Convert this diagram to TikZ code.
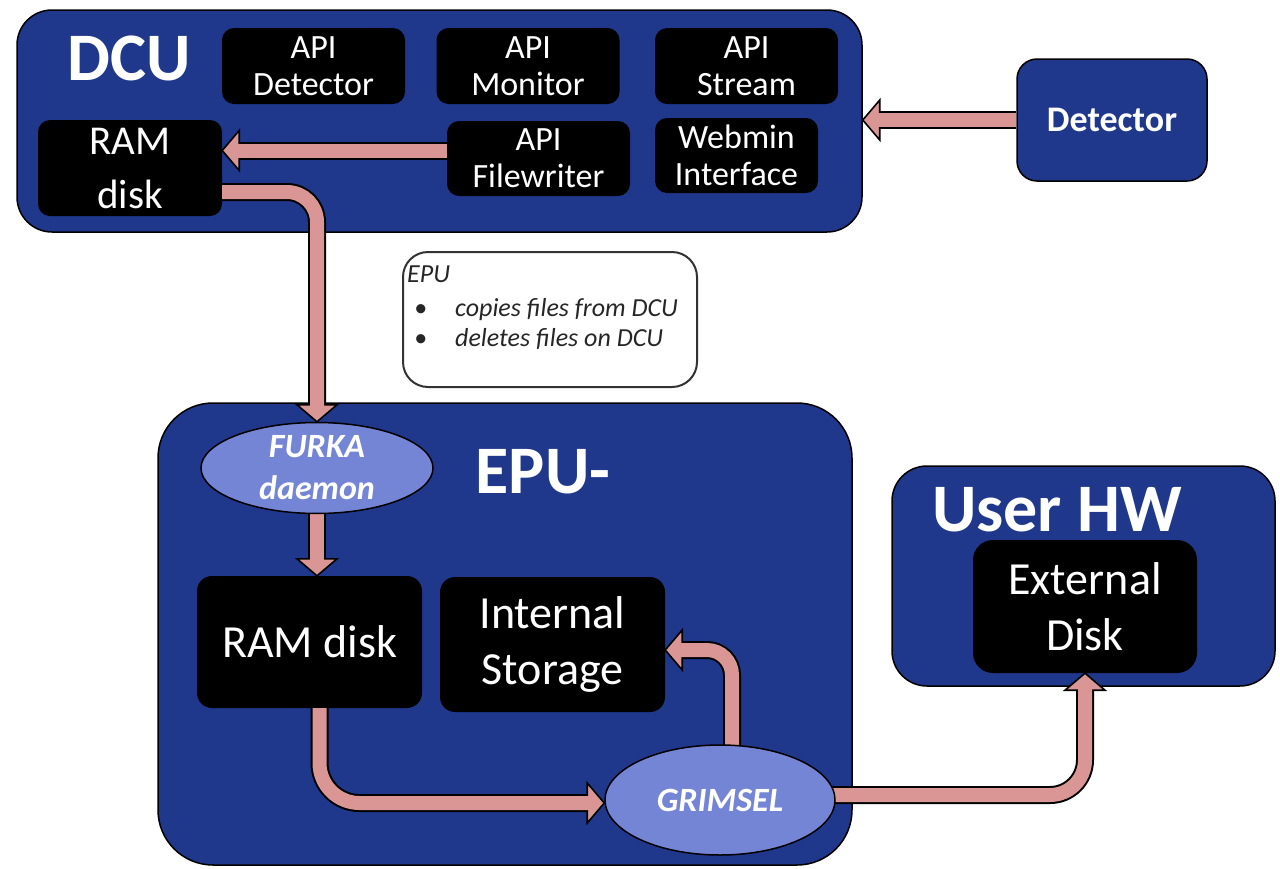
\documentclass[tikz,border=0pt]{standalone}
\usepackage{fontspec}
\setmainfont{Carlito}
\usetikzlibrary{calc,shapes.geometric}
\definecolor{boxblue}{RGB}{31,56,140}
\definecolor{arrpink}{RGB}{217,150,148}
\definecolor{ellblue}{RGB}{117,133,213}
\pgfdeclarelayer{bg}
\pgfdeclarelayer{mid}
\pgfsetlayers{bg,mid,main}
\newcommand{\fathead}[2]{\draw[arrhead, shift={(#1)}, rotate=#2] (0,0) -- (-17,20) -- (-17,-20) -- cycle;}
\begin{document}
\begin{tikzpicture}[x=1pt,y=-1pt,
  bigbox/.style={draw=black, line width=1.5pt, fill=boxblue, rounded corners=#1, inner sep=0pt},
  titlest/.style={text=white, font=\bfseries\fontsize{68}{72}\selectfont, inner sep=0pt},
  apibox/.style={fill=black, rounded corners=12pt, text=white, align=center, inner sep=0pt,
    minimum width=183pt, minimum height=76pt, font=\fontsize{34}{37}\selectfont},
  diskbox/.style={fill=black, rounded corners=15pt, text=white, align=center, inner sep=0pt,
    font=\fontsize{46}{56}\selectfont},
  notebox/.style={draw=black!80, line width=2pt, fill=white, rounded corners=25pt, inner sep=0pt},
  notetext/.style={text=black!85, font=\itshape\fontsize{26}{30}\selectfont, inner sep=0pt},
  ell/.style={ellipse, draw=black, line width=1.5pt, fill=ellblue, text=white, align=center,
    inner sep=0pt, font=\bfseries\itshape\fontsize{34}{42}\selectfont},
  arrout/.style={draw=black, line width=18pt},
  arrin/.style={draw=arrpink, line width=14pt},
  arrhead/.style={fill=arrpink, draw=black, line width=1.6pt, line join=miter}
]
\useasboundingbox (0,0) rectangle (1280,868);

\begin{pgfonlayer}{bg}
\node[bigbox=35pt, minimum width=845pt, minimum height=222pt] (dcu) at (439.5,121) {};
\node[titlest] (dcut) at (129,58) {DCU};
\node[apibox] (apidet) at (313.5,66) {API\\Detector};
\node[apibox] (apimon) at (528,66) {API\\Monitor};
\node[apibox] (apistr) at (746.5,66) {API\\Stream};
\node[apibox, minimum width=184pt, minimum height=96pt, font=\fontsize{41}{54}\selectfont] (ramA) at (130,168) {RAM\\disk};
\node[apibox, minimum height=75pt] (apifw) at (538.5,158.5) {API\\Filewriter};
\node[apibox, minimum width=163pt, minimum height=75pt] (webmin) at (736.5,155.5) {Webmin\\Interface};
\node[bigbox=20pt, minimum width=190pt, minimum height=122pt, text=white,
  font=\bfseries\fontsize{36}{40}\selectfont] (det) at (1112,120) {Detector};

\node[notebox, minimum width=294pt, minimum height=135pt] (note) at (550,319.5) {};
\node[notetext, anchor=base west] (noteh) at (407,282) {EPU};
\node[notetext, anchor=base west] (bul1) at (414,316) {•};
\node[notetext, anchor=base west] (txt1) at (455,316) {copies files from DCU};
\node[notetext, anchor=base west] (bul2) at (414,346) {•};
\node[notetext, anchor=base west] (txt2) at (455,346) {deletes files on DCU};

\node[bigbox=55pt, minimum width=694pt, minimum height=462pt] (epu) at (505,634) {};
\node[titlest] (eput) at (543,472) {EPU-};
\node[diskbox, minimum width=225pt, minimum height=132pt] (ramB) at (309.5,642) {RAM disk};
\node[diskbox, minimum width=225pt, minimum height=135pt] (intst) at (552.5,644.5) {Internal\\Storage};

\node[bigbox=35pt, minimum width=383pt, minimum height=220pt] (userhw) at (1083.5,576) {};
\node[titlest] (usert) at (1057,510) {User HW};
\node[diskbox, rounded corners=20pt, minimum width=224pt, minimum height=133pt] (ext) at (1085,606.5) {External\\Disk};
\end{pgfonlayer}

\node[ell, minimum width=232pt, minimum height=90pt] (furka) at (317,468) {FURKA\\daemon};
\node[ell, minimum width=230pt, minimum height=110pt] (grimsel) at (720,800) {GRIMSEL};

\begin{pgfonlayer}{mid}
% Detector -> DCU
\coordinate (a1t) at (dcu.east |- det.west);
\draw[arrout] (det.west) -- ($(a1t)+(17,0)$);
\fathead{a1t}{180}
\draw[arrin] (det.west) -- ($(a1t)+(13,0)$);
% Filewriter -> RAM disk
\coordinate (a2s) at ($(apifw.west)+(0,-8)$);
\coordinate (a2t) at (ramA.east |- a2s);
\draw[arrout] (a2s) -- ($(a2t)+(17,0)$);
\fathead{a2t}{180}
\draw[arrin] (a2s) -- ($(a2t)+(13,0)$);
% RAM disk (DCU) -> FURKA
\coordinate (a3s) at ($(ramA.east)+(0,24)$);
\draw[arrout, rounded corners=30pt] (a3s) -| ($(furka.north)+(0,-17)$);
\fathead{furka.north}{-90}
\draw[arrin, rounded corners=30pt] (a3s) -| ($(furka.north)+(0,-13)$);
% FURKA -> RAM disk (EPU)
\coordinate (a4t) at (furka.south |- ramB.north);
\draw[arrout] (furka.south) -- ($(a4t)+(0,-17)$);
\fathead{a4t}{-90}
\draw[arrin] (furka.south) -- ($(a4t)+(0,-13)$);
% RAM disk (EPU) -> GRIMSEL
\coordinate (a5s) at ($(ramB.south)+(10,0)$);
\coordinate (a5t) at ($(grimsel.west)+(0,3)$);
\draw[arrout, rounded corners=40pt] (a5s) |- ($(a5t)+(-17,0)$);
\fathead{a5t}{0}
\draw[arrin, rounded corners=40pt] (a5s) |- ($(a5t)+(-13,0)$);
% GRIMSEL -> Internal Storage
\coordinate (a6s) at ($(grimsel.north)+(12,5)$);
\coordinate (a6t) at ($(intst.east)+(0,5.5)$);
\draw[arrout, rounded corners=25pt] (a6s) |- ($(a6t)+(17,0)$);
\fathead{a6t}{180}
\draw[arrin, rounded corners=25pt] (a6s) |- ($(a6t)+(13,0)$);
% GRIMSEL -> External Disk
\coordinate (a7s) at ($(grimsel.east)+(-5,-5)$);
\draw[arrout, rounded corners=35pt] (a7s) -| ($(ext.south)+(0,17)$);
\fathead{ext.south}{90}
\draw[arrin, rounded corners=35pt] (a7s) -| ($(ext.south)+(0,13)$);
\end{pgfonlayer}
\end{tikzpicture}
\end{document}
